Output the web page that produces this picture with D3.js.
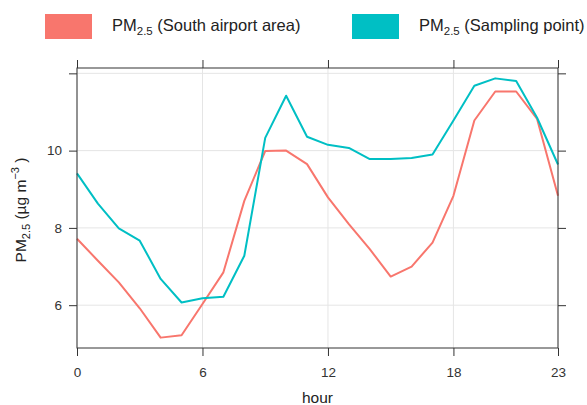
<!DOCTYPE html>
<html>
<head>
<meta charset="utf-8">
<script src="https://cdn.jsdelivr.net/npm/d3@7"></script>
<style>
  body { margin: 0; background: #fff; }
  text { font-family: "Liberation Sans", Arial, sans-serif; }
</style>
</head>
<body>
<script>
var hours = d3.range(0, 24);
var southAirport = [7.72, 7.15, 6.59, 5.92, 5.16, 5.22, 6.03, 6.85, 8.70, 9.99,
                    10.0, 9.65, 8.79, 8.10, 7.45, 6.74, 7.00, 7.62, 8.83, 10.78,
                    11.53, 11.53, 10.82, 8.83];
var samplingPoint = [9.41, 8.63, 7.99, 7.67, 6.68, 6.07, 6.18, 6.22, 7.28, 10.33,
                     11.42, 10.36, 10.15, 10.07, 9.78, 9.78, 9.81, 9.90, 10.78, 11.68,
                     11.87, 11.80, 10.85, 9.64];
var xTicks = [0, 6, 12, 18, 23];
var yTicks = [6, 8, 10, 12];
var yLabelled = [6, 8, 10];
var seriesNames = ["South airport area", "Sampling point"];
var colors = ["#F8766D", "#00BFC4"];

var W = 587, H = 405;
var margin = {top: 68, right: 29, bottom: 57, left: 77},
    width = W - margin.left - margin.right,
    height = H - margin.top - margin.bottom;

var svg = d3.select("body").append("svg")
    .attr("width", W)
    .attr("height", H);

var all = southAirport.concat(samplingPoint);
var lo = d3.min(all), hi = d3.max(all), pad = (hi - lo) * 0.04;

var x = d3.scaleLinear().domain([0, 23]).range([0, width]);
var y = d3.scaleLinear().domain([lo - pad, hi + pad]).range([height, 0]);

var g = svg.append("g")
    .attr("transform", "translate(" + margin.left + "," + margin.top + ")");

// grid
g.selectAll(".hgrid").data(yTicks).enter().append("line")
    .attr("x1", 0).attr("x2", width)
    .attr("y1", function(d){ return y(d); }).attr("y2", function(d){ return y(d); })
    .attr("stroke", "#e5e5e5").attr("stroke-width", 1);
g.selectAll(".vgrid").data(xTicks).enter().append("line")
    .attr("y1", 0).attr("y2", height)
    .attr("x1", function(d){ return x(d); }).attr("x2", function(d){ return x(d); })
    .attr("stroke", "#e5e5e5").attr("stroke-width", 1);

// lines
var line = d3.line()
    .x(function(d, i){ return x(hours[i]); })
    .y(function(d){ return y(d); });

[southAirport, samplingPoint].forEach(function(s, i) {
  g.append("path")
    .datum(s)
    .attr("fill", "none")
    .attr("stroke", colors[i])
    .attr("stroke-width", 2)
    .attr("stroke-linejoin", "round")
    .attr("d", line);
});

// axes (all four sides)
function styleAxis(sel) {
  sel.select(".domain").remove();
  sel.selectAll(".tick line").attr("stroke", "#333");
  sel.selectAll(".tick text").attr("fill", "#333").style("font-size", "13.5px")
    .style("font-family", "'Liberation Sans', Arial, sans-serif");
}
g.append("g").attr("transform", "translate(0," + height + ")")
  .call(d3.axisBottom(x).tickValues(xTicks).tickSize(8).tickPadding(11).tickFormat(d3.format("d")))
  .call(styleAxis);
g.append("g")
  .call(d3.axisTop(x).tickValues(xTicks).tickSize(8).tickFormat(""))
  .call(styleAxis);
g.append("g")
  .call(d3.axisLeft(y).tickValues(yTicks).tickSize(8).tickPadding(7)
    .tickFormat(function(d){ return yLabelled.indexOf(d) >= 0 ? d : ""; }))
  .call(styleAxis);
g.append("g").attr("transform", "translate(" + width + ",0)")
  .call(d3.axisRight(y).tickValues(yTicks).tickSize(8).tickFormat(""))
  .call(styleAxis);

g.append("rect")
  .attr("width", width).attr("height", height)
  .attr("fill", "none").attr("stroke", "#333").attr("stroke-width", 1);

// axis titles
svg.append("text")
  .attr("x", margin.left + width / 2).attr("y", 403)
  .attr("text-anchor", "middle").attr("fill", "#222")
  .style("font-size", "15.5px").text("hour");

var yl = svg.append("text")
  .attr("transform", "translate(26," + (margin.top + height / 2 + 2) + ") rotate(-90)")
  .attr("text-anchor", "middle").attr("fill", "#222")
  .style("font-size", "15.5px");
yl.append("tspan").text("PM");
yl.append("tspan").attr("dy", 4).style("font-size", "11px").text("2.5");
yl.append("tspan").attr("dy", -4).text(" (µg m");
yl.append("tspan").attr("dy", -7).style("font-size", "11px").text("−3");
yl.append("tspan").attr("dy", 7).text(" )");

// legend
var legX = [45, 352];
seriesNames.forEach(function(name, i) {
  svg.append("rect")
    .attr("x", legX[i]).attr("y", 14).attr("width", 47).attr("height", 25)
    .attr("fill", colors[i]);
  var t = svg.append("text")
    .attr("x", legX[i] + 67).attr("y", 31)
    .attr("fill", "#222").style("font-size", "16.5px");
  t.append("tspan").text("PM");
  t.append("tspan").attr("dy", 4).style("font-size", "11.5px").text("2.5");
  t.append("tspan").attr("dy", -4).text(" (" + name + ")");
});
</script>
</body>
</html>
